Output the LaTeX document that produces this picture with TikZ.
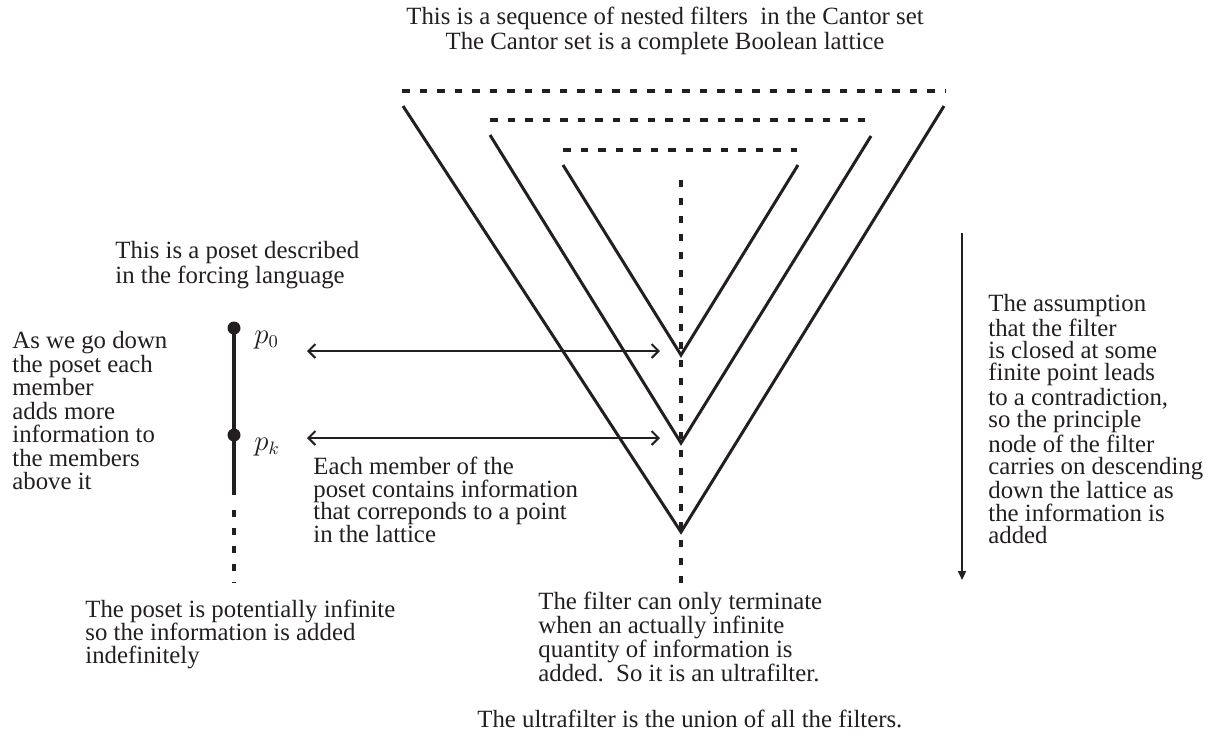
\documentclass[tikz,border=0pt]{standalone}
\usepackage{fontspec}
\setmainfont{Liberation Serif}
\usetikzlibrary{arrows.meta}
\definecolor{ink}{RGB}{35,31,32}
\begin{document}
\begin{tikzpicture}[x=0.5pt,y=-0.5pt,
  txt/.style={inner sep=0pt, anchor=north west, align=left, text=ink, font=\fontsize{12.4}{11.5}\selectfont},
  vline/.style={draw=ink, line width=1.5pt, line join=miter},
  hdash/.style={draw=ink, line width=1.75pt, dash pattern=on 3.75pt off 5pt},
  vdash/.style={draw=ink, line width=2pt, dash pattern=on 3.3pt off 5.7pt},
  biarrow/.style={draw=ink, line width=1pt, {Straight Barb[length=3.5pt,width=7pt]}-{Straight Barb[length=3.5pt,width=7pt]}},
  downarrow/.style={draw=ink, line width=1pt, -{Triangle[length=4.5pt,width=4pt]}},
  dotnode/.style={circle, fill=ink, inner sep=0pt, minimum size=6.5pt},
  plabel/.style={inner sep=0pt, anchor=west, text=ink, font=\fontsize{13.5}{15}\selectfont}
]
\useasboundingbox (0,0) rectangle (1208,736);

% dashed tops
\coordinate (d1a) at (402,91);  \coordinate (d1b) at (945,91);
\coordinate (d2a) at (490,120); \coordinate (d2b) at (872,120);
\coordinate (d3a) at (563,150); \coordinate (d3b) at (797,150);
\draw[hdash] (d1a) -- (d1b);
\draw[hdash] (d2a) -- (d2b);
\draw[hdash] (d3a) -- (d3b);

% V shapes
\coordinate (ol) at (403,106); \coordinate (oa) at (681,532); \coordinate (or) at (944,106);
\coordinate (ml) at (490,135); \coordinate (ma) at (681,443); \coordinate (mr) at (871,136);
\coordinate (il) at (563,165); \coordinate (ia) at (681,355); \coordinate (ir) at (798,165);
\draw[vline] (ol) -- (oa) -- (or);
\draw[vline] (ml) -- (ma) -- (mr);
\draw[vline] (il) -- (ia) -- (ir);

% central dotted line
\coordinate (ct) at (681,180); \coordinate (cb) at (681,583);
\draw[vdash] (ct) -- (cb);

% poset
\node[dotnode] (p0) at (234,328) {};
\node[dotnode] (pk) at (234,435) {};
\coordinate (ps) at (234,495);
\coordinate (pd1) at (234,510); \coordinate (pd2) at (234,583);
\draw[draw=ink, line width=1.75pt] (p0.center) -- (ps);
\draw[vdash] (pd1) -- (pd2);
\node[plabel] (lp0) at (254,340) {$p_{0}$};
\node[plabel] (lpk) at (254,447) {$p_{k}$};

% horizontal arrows
\coordinate (a0l) at (307,351); \coordinate (a0r) at (660,351);
\coordinate (akl) at (307,438); \coordinate (akr) at (660,438);
\draw[biarrow] (a0l) -- (a0r);
\draw[biarrow] (akl) -- (akr);

% right arrow
\coordinate (rt) at (962,233); \coordinate (rb) at (962,580);
\draw[downarrow] (rt) -- (rb);

% texts
\node[txt, anchor=north, align=center, font=\fontsize{12.4}{12.5}\selectfont] (ttop) at (665,7)
  {This is a sequence of nested filters\ \ in the Cantor set\\The Cantor set is a complete Boolean lattice};
\node[txt, font=\fontsize{12.4}{12.5}\selectfont] (tposet) at (115,241)
  {This is a poset described\\in the forcing language};
\node[txt, font=\fontsize{12.4}{11.75}\selectfont] (tdown) at (12,331)
  {As we go down\\the poset each\\member\\adds more\\information to\\the members\\above it};
\node[txt, font=\fontsize{12.4}{11.25}\selectfont] (teach) at (313,457)
  {Each member of the\\poset contains information\\that correponds to a point\\in the lattice};
\node[txt, font=\fontsize{12.4}{11.1}\selectfont] (tright) at (988,294)
  {The assumption\\that the filter\\is closed at some\\finite point leads\\to a contradiction,\\so the principle\\node of the filter\\carries on descending\\down the lattice as\\the information is\\added};
\node[txt] (tinf) at (85,600)
  {The poset is potentially infinite\\so the information is added\\indefinitely};
\node[txt, font=\fontsize{12.4}{12}\selectfont] (tterm) at (538,592)
  {The filter can only terminate\\when an actually infinite\\quantity of information is\\added.\ \ So it is an ultrafilter.};
\node[txt] (tultra) at (477,710)
  {The ultrafilter is the union of all the filters.};
\end{tikzpicture}
\end{document}
